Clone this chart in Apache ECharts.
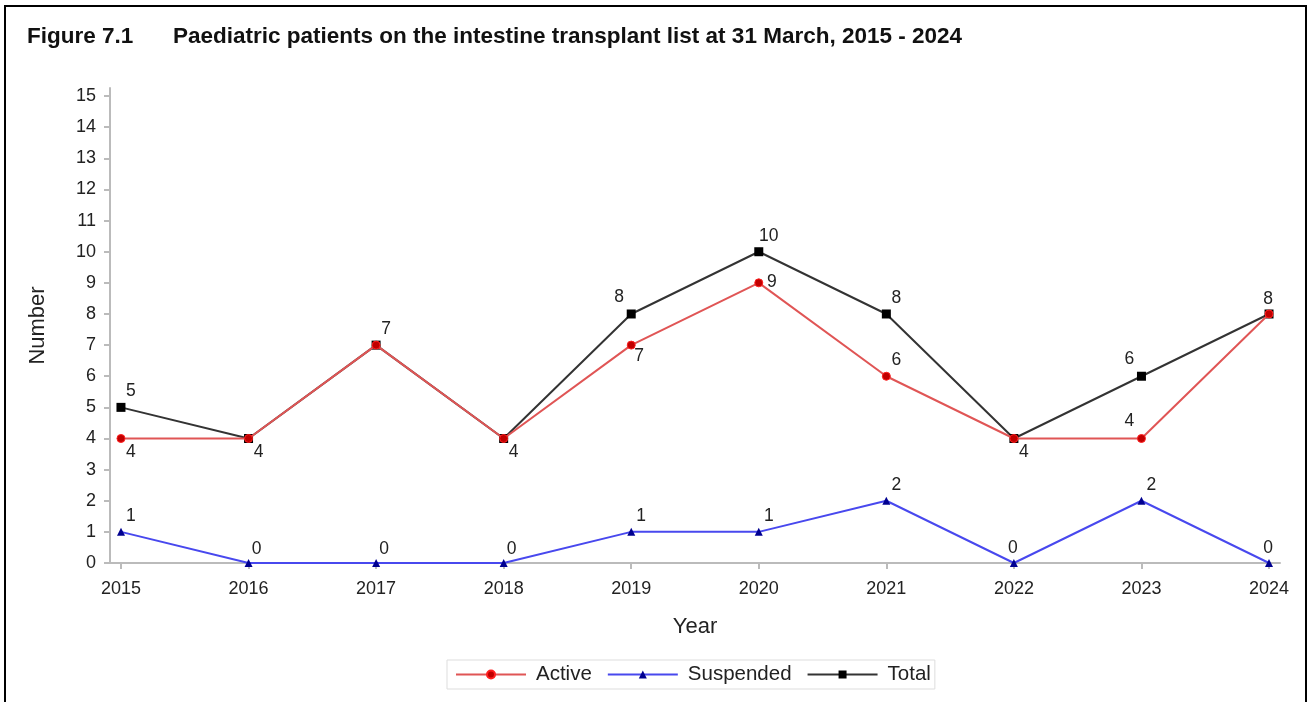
<!DOCTYPE html>
<html>
<head>
<meta charset="utf-8">
<script src="https://cdn.jsdelivr.net/npm/echarts@6/dist/echarts.min.js"></script>
<style>
html,body{margin:0;padding:0;background:#fff;}
#chart{width:1309px;height:702px;}
</style>
</head>
<body>
<div id="chart"></div>
<script>
// ---- data ----
var years = [2015, 2016, 2017, 2018, 2019, 2020, 2021, 2022, 2023, 2024];
var active = [4, 4, 7, 4, 7, 9, 6, 4, 4, 8];
var suspended = [1, 0, 0, 0, 1, 1, 2, 0, 2, 0];
var total = [5, 4, 7, 4, 8, 10, 8, 4, 6, 8];
var yTicks = [0,1,2,3,4,5,6,7,8,9,10,11,12,13,14,15];
var figureLabel = 'Figure 7.1';
var titleText = 'Paediatric patients on the intestine transplant list at 31 March, 2015 - 2024';

// ---- label placement (style only): offset keys per point, null = hidden ----
var activeLabelPlace = ['br', null, null, null, 'br2', 'r', 'tr', null, 'tl', null];
var suspLabelPlace = ['tr', 'tr2', 'tr2', 'tr2', 'tr', 'tr', 'tr', 't', 'tr', 't'];
var totalLabelPlace = ['tr', 'br', 'tr', 'br', 'tl', 'tr', 'tr', 'br', 'tl', 't'];
var offsets = {
  tr: [10, -16], tr2: [8, -14], br: [10, 14], br2: [8, 11], tl: [-12, -17],
  t: [-1, -15], r: [13, -1]
};

function build(vals, places) {
  return vals.map(function (v, i) {
    var p = places[i];
    var item = { value: [years[i], v] };
    if (p === null) {
      item.label = { show: false };
    } else {
      item.label = { show: true, position: 'inside', offset: offsets[p] };
    }
    return item;
  });
}

var font = 'Arial, "Liberation Sans", sans-serif';
var labelStyle = {
  show: true,
  color: '#222',
  fontFamily: font,
  fontSize: 17.5,
  align: 'center',
  verticalAlign: 'middle',
  formatter: function (p) { return p.value[1]; }
};

var chart = echarts.init(document.getElementById('chart'), null, { renderer: 'canvas' });
chart.setOption({
  animation: false,
  backgroundColor: '#fff',
  graphic: [
    {
      type: 'polyline',
      shape: { points: [[5, 710], [5, 6], [1306, 6], [1306, 710]] },
      style: { stroke: '#000', lineWidth: 2, fill: null },
      silent: true
    },
    {
      type: 'text', left: 27, top: 25,
      style: { text: figureLabel, font: 'bold 22.5px ' + font, fill: '#111' }
    },
    {
      type: 'text', left: 173, top: 25,
      style: { text: titleText, font: 'bold 22.5px ' + font, fill: '#111' }
    }
  ],
  legend: {
    bottom: 13, left: 447,
    data: ['Active', 'Suspended', 'Total'],
    itemWidth: 70, itemHeight: 10, itemGap: 15,
    padding: [4, 4, 4, 8],
    borderColor: '#ddd', borderWidth: 1,
    textStyle: { fontFamily: font, fontSize: 20.5, color: '#222', padding: [0, 0, 0, 5] }
  },
  grid: { left: 110, right: 29, top: 88, bottom: 139 },
  xAxis: {
    type: 'value',
    min: 2014.914, max: 2024.086,
    name: 'Year', nameLocation: 'middle', nameGap: 53,
    nameTextStyle: { fontFamily: font, fontSize: 22, color: '#222' },
    axisLine: { show: true, lineStyle: { color: '#bbb', width: 2 } },
    axisTick: { show: true, length: 6, lineStyle: { color: '#bbb', width: 2 }, customValues: years },
    axisLabel: {
      margin: 17, fontFamily: font, fontSize: 18, color: '#222',
      customValues: years,
      formatter: function (v) { return String(Math.round(v)); }
    },
    splitLine: { show: false }
  },
  yAxis: {
    type: 'value',
    min: 0, max: 15.26,
    name: 'Number', nameLocation: 'middle', nameGap: 61, nameRotate: 90,
    nameTextStyle: { fontFamily: font, fontSize: 22, color: '#222' },
    axisLine: { show: true, lineStyle: { color: '#bbb', width: 2 } },
    axisTick: { show: true, length: 6, lineStyle: { color: '#bbb', width: 2 }, customValues: yTicks },
    axisLabel: {
      margin: 14, fontFamily: font, fontSize: 18, color: '#222',
      customValues: yTicks,
      formatter: function (v) { return String(Math.round(v)); }
    },
    splitLine: { show: false }
  },
  series: [
    {
      name: 'Active', type: 'line', z: 3,
      data: build(active, activeLabelPlace),
      symbol: 'circle', symbolSize: 8,
      lineStyle: { color: '#e05555', width: 2 },
      itemStyle: { color: '#c00000', borderColor: '#ff2020', borderWidth: 1 },
      label: labelStyle
    },
    {
      name: 'Suspended', type: 'line', z: 3,
      data: build(suspended, suspLabelPlace),
      symbol: 'triangle', symbolSize: 8,
      lineStyle: { color: '#4848ee', width: 2 },
      itemStyle: { color: '#000090', borderColor: '#000090', borderWidth: 0 },
      label: labelStyle
    },
    {
      name: 'Total', type: 'line', z: 2,
      data: build(total, totalLabelPlace),
      symbol: 'rect', symbolSize: 9,
      lineStyle: { color: '#333', width: 2 },
      itemStyle: { color: '#000', borderColor: '#000', borderWidth: 0 },
      label: labelStyle
    }
  ]
});
</script>
</body>
</html>
